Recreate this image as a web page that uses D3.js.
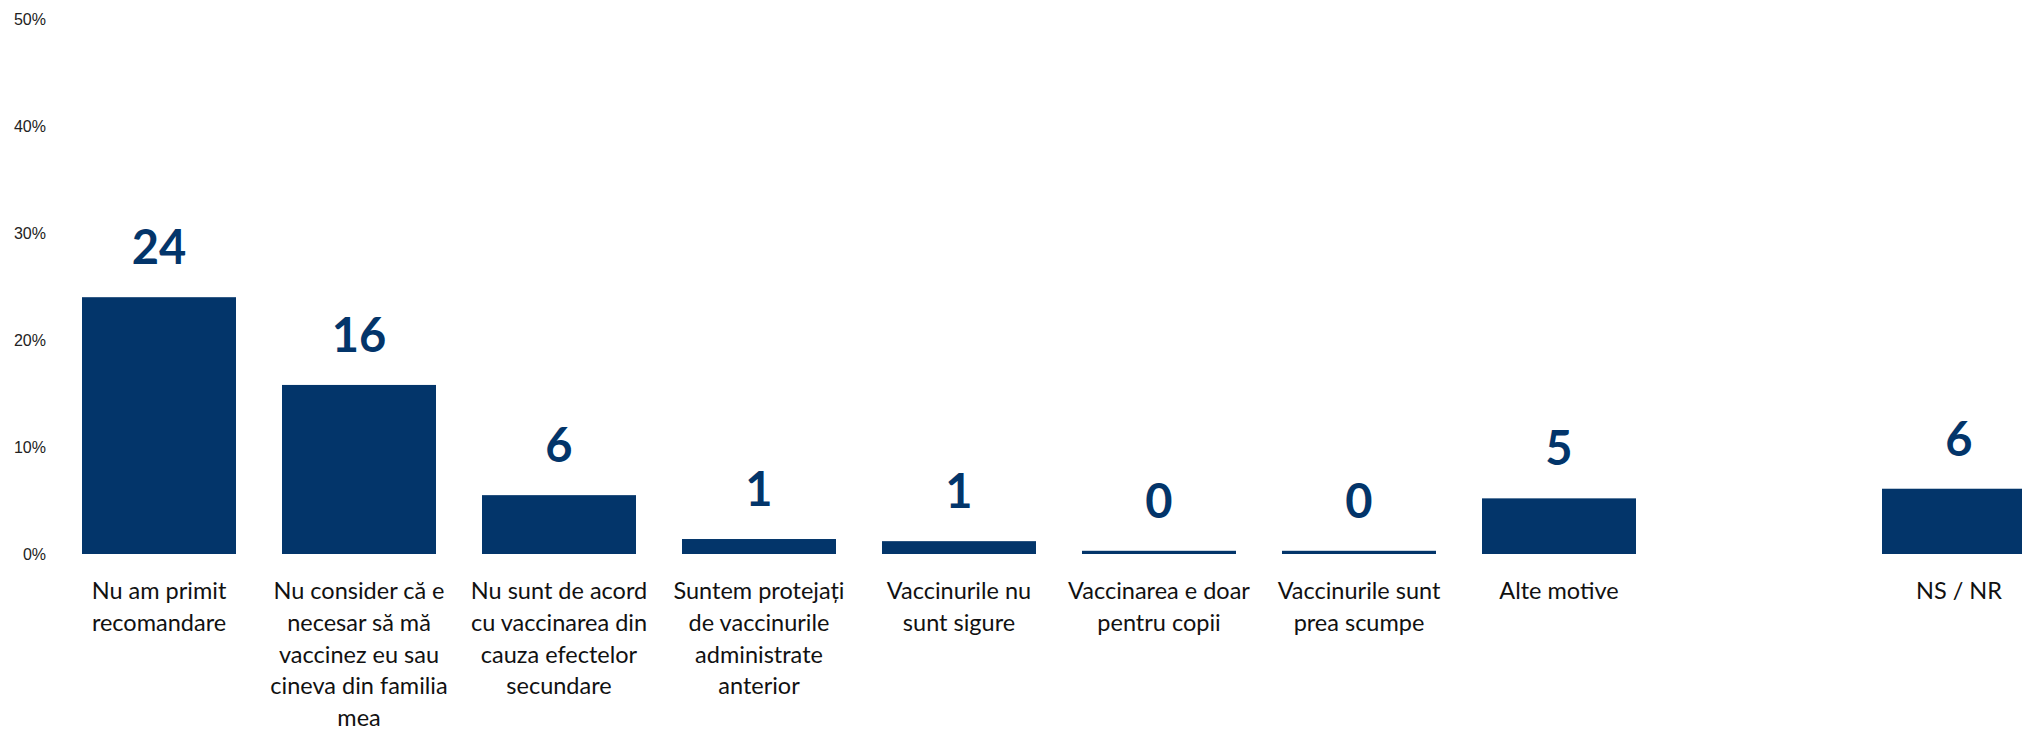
<!DOCTYPE html>
<html>
<head>
<meta charset="utf-8">
<script src="https://cdn.jsdelivr.net/npm/d3@7/dist/d3.min.js"></script>
<style>
  html, body { margin: 0; padding: 0; background: #ffffff; }
  svg { display: block; }
</style>
</head>
<body>
<svg id="chart" width="2022" height="731"></svg>
<script>
// Reasons for not getting vaccinated (% of respondents)
const categories = [
  "Nu am primit recomandare",
  "Nu consider că e necesar să mă vaccinez eu sau cineva din familia mea",
  "Nu sunt de acord cu vaccinarea din cauza efectelor secundare",
  "Suntem protejați de vaccinurile administrate anterior",
  "Vaccinurile nu sunt sigure",
  "Vaccinarea e doar pentru copii",
  "Vaccinurile sunt prea scumpe",
  "Alte motive",
  "gap",
  "NS / NR"
];
const categoryLines = [
  ["Nu am primit", "recomandare"],
  ["Nu consider că e", "necesar să mă", "vaccinez eu sau", "cineva din familia", "mea"],
  ["Nu sunt de acord", "cu vaccinarea din", "cauza efectelor", "secundare"],
  ["Suntem protejați", "de vaccinurile", "administrate", "anterior"],
  ["Vaccinurile nu", "sunt sigure"],
  ["Vaccinarea e doar", "pentru copii"],
  ["Vaccinurile sunt", "prea scumpe"],
  ["Alte motive"],
  [],
  ["NS / NR"]
];
const values = [24.0, 15.8, 5.5, 1.4, 1.2, 0.3, 0.3, 5.2, null, 6.1];
const yTicks = [0, 10, 20, 30, 40, 50];

const barColor = "#03356a";
const svg = d3.select("#chart");

const baseY = 554, topY = 19;
const x = d3.scaleBand()
  .domain(categories)
  .range([59, 2059])
  .paddingInner(0.23)
  .paddingOuter(0.115);

const y = d3.scaleLinear()
  .domain([0, 50])
  .range([baseY, topY]);

// Y axis: labels only
const yAxis = svg.append("g")
  .attr("transform", "translate(54,0)")
  .call(d3.axisLeft(y).tickValues(yTicks).tickSize(0).tickPadding(8).tickFormat(d => d + "%"));
yAxis.select(".domain").remove();
yAxis.selectAll("text")
  .attr("font-family", "'Liberation Sans', Arial, sans-serif")
  .attr("font-size", 16)
  .attr("fill", "#222");

// Bars
const data = categories.map((c, i) => ({ c, v: values[i], lines: categoryLines[i] }));
const shown = data.filter(d => d.v !== null);

svg.append("g").selectAll("rect")
  .data(shown)
  .join("rect")
  .attr("x", d => x(d.c))
  .attr("width", x.bandwidth())
  .attr("y", d => y(d.v))
  .attr("height", d => y(0) - y(d.v))
  .attr("fill", barColor);

// Value labels
const fmt = d3.format(".0f");
svg.append("g").selectAll("text")
  .data(shown)
  .join("text")
  .attr("x", d => x(d.c) + x.bandwidth() / 2)
  .attr("y", d => y(d.v) - 33)
  .attr("text-anchor", "middle")
  .attr("font-family", "Lato, 'Open Sans', sans-serif")
  .attr("font-weight", "bold")
  .attr("font-size", 47)
  .attr("fill", barColor)
  .text(d => fmt(d.v));

// Category axis with wrapped labels
const xAxis = svg.append("g")
  .attr("transform", `translate(0,${baseY})`)
  .call(d3.axisBottom(x).tickSize(0));
xAxis.select(".domain").remove();
xAxis.selectAll(".tick text").each(function(c) {
  const t = d3.select(this);
  const lines = categoryLines[categories.indexOf(c)];
  t.text(null)
    .attr("y", 45)
    .attr("dy", null)
    .attr("font-family", "Lato, 'Open Sans', sans-serif")
    .attr("font-size", 23.5)
    .attr("fill", "#111");
  lines.forEach((line, i) => {
    t.append("tspan")
      .attr("x", 0)
      .attr("dy", i === 0 ? 0 : 31.8)
      .text(line);
  });
});
</script>
</body>
</html>
